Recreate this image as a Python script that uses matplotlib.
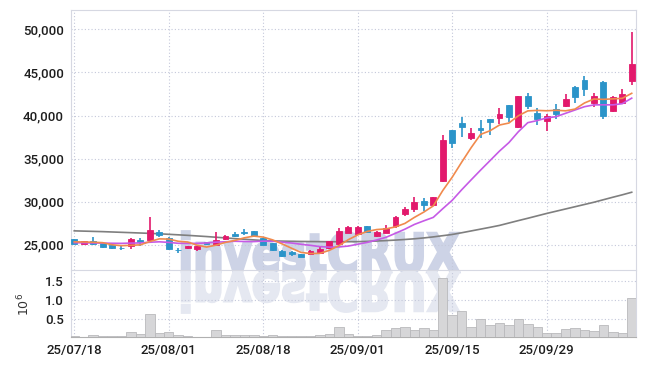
import matplotlib
matplotlib.use("Agg")
import matplotlib.pyplot as plt
from matplotlib.textpath import TextPath
from matplotlib.font_manager import FontProperties
from matplotlib.patches import PathPatch
from matplotlib.transforms import Affine2D

# ----- DATA -----
opens = [25650, 25130, 25480, 25200, 24980, 24680, 24900, 25600, 25600, 26500,
         25750, 24440, 24590, 24514, 25330, 24980, 25635, 26210, 26480, 26600,
         25750, 25170, 24320, 24130, 23930, 23930, 24090, 24600, 25050, 26400,
         26220, 27180, 26060, 26400, 27180, 28550, 29155, 30100, 29620, 32420,
         38318, 39168, 37400, 38588, 39555, 39748, 41218, 38704, 42262, 40250,
         39400, 40770, 41140, 43320, 44117, 41450, 43880, 40540, 41488, 44040]
highs = [25700, 25450, 25950, 25250, 25000, 24860, 25750, 25750, 28200, 26720,
         25940, 24590, 24920, 24900, 25350, 26520, 26100, 26520, 26800, 26640,
         25780, 25200, 24400, 24320, 23970, 24400, 24780, 25480, 26950, 27200,
         27150, 27200, 26560, 27300, 28400, 29330, 30507, 30390, 30600, 37737,
         38330, 39787, 38600, 39477, 39580, 40830, 41230, 42300, 42648, 40830,
         40200, 41295, 42470, 43370, 44582, 42570, 44001, 42262, 43034, 49724]
lows = [25100, 25100, 24990, 24600, 24520, 24420, 24470, 24860, 25450, 25866,
        24400, 24100, 24560, 24320, 24950, 24950, 25600, 25866, 26100, 26000,
        24950, 24330, 23550, 23700, 23550, 23900, 24060, 24500, 25000, 26380,
        26150, 26350, 25900, 26330, 26950, 28400, 28845, 28900, 29550, 32324,
        36191, 37500, 37200, 37400, 37737, 39013, 39284, 38600, 40714, 38880,
        38180, 39580, 41000, 41500, 42320, 40946, 39555, 40400, 41300, 43537]
closes = [25150, 25440, 25060, 24790, 24600, 24620, 25630, 25360, 26720, 26130,
          24470, 24400, 24900, 24900, 25040, 25560, 26020, 26020, 26420, 26040,
          24980, 24400, 23700, 23900, 23620, 24320, 24510, 25440, 26600, 27100,
          27100, 26520, 26530, 27000, 28265, 29115, 30004, 29620, 30585, 37157,
          36848, 38704, 38008, 38318, 39270, 40173, 39864, 42230, 41140, 39555,
          39960, 40150, 41914, 42150, 43090, 42262, 39960, 42184, 42470, 46000]

# volume in millions of shares
volumes = [0.04, 0.02, 0.07, 0.04, 0.04, 0.04, 0.15, 0.10, 0.63, 0.13,
           0.15, 0.07, 0.04, 0.02, 0.02, 0.21, 0.07, 0.06, 0.06, 0.06,
           0.04, 0.06, 0.04, 0.04, 0.04, 0.04, 0.07, 0.10, 0.29, 0.10,
           0.045, 0.045, 0.07, 0.21, 0.26, 0.29, 0.21, 0.26, 0.20, 1.57,
           0.59, 0.70, 0.29, 0.48, 0.32, 0.39, 0.32, 0.50, 0.37, 0.29,
           0.125, 0.125, 0.23, 0.26, 0.21, 0.16, 0.34, 0.15, 0.125, 1.04]

ma5 = [25350, 25330, 25300, 25250, 25008, 24902, 24940, 25000, 25386, 25692,
       25662, 25416, 25324, 24960, 24742, 24960, 25284, 25508, 25812, 26012,
       25896, 25572, 25108, 24604, 24120, 23988, 24010, 24358, 24898, 25594,
       26150, 26552, 26770, 26850, 27083, 27486, 28183, 28801, 29518, 31296,
       32843, 34583, 36260, 37807, 38230, 38895, 39127, 39971, 40535, 40592,
       40550, 40607, 40544, 40746, 41453, 41913, 41875, 41929, 41993, 42575]
ma10 = [25250, 25230, 25220, 25200, 25180, 25170, 25200, 25220, 25300, 25350,
        25282, 25178, 25162, 25173, 25217, 25311, 25350, 25416, 25386, 25377,
        25428, 25428, 25308, 25208, 25066, 24942, 24791, 24733, 24751, 24857,
        25069, 25281, 25564, 25874, 26339, 26818, 27367, 27785, 28184, 29190,
        30164, 31383, 32531, 33662, 34763, 35869, 36855, 38116, 39171, 39411,
        39722, 39867, 40257, 40641, 41023, 41232, 41241, 41237, 41370, 42014]
ma60 = [26620, 26590, 26560, 26530, 26490, 26450, 26410, 26370, 26330, 26280,
        26220, 26160, 26100, 26030, 25960, 25880, 25800, 25720, 25650, 25570,
        25500, 25460, 25430, 25410, 25390, 25380, 25370, 25360, 25360, 25360,
        25370, 25400, 25440, 25490, 25550, 25620, 25700, 25800, 25920, 26060,
        26200, 26400, 26610, 26820, 27030, 27250, 27530, 27810, 28080, 28360,
        28640, 28900, 29160, 29420, 29680, 29940, 30230, 30520, 30800, 31100]

tick_pos = [0, 10, 20, 30, 40, 50]
tick_labels = ['25/07/18', '25/08/01', '25/08/18', '25/09/01', '25/09/15', '25/09/29']
price_ticks = [25000, 30000, 35000, 40000, 45000, 50000]
vol_ticks = [0.5, 1.0, 1.5]

# ----- STYLE -----
UP = '#E2196C'
DOWN = '#2B94C9'
GRID = '#C4C8DA'
FRAME = '#D6D8E2'
plt.rcParams['font.family'] = ['Roboto', 'DejaVu Sans']

fig = plt.figure(figsize=(6.45, 3.66), dpi=100)
ax = fig.add_axes([0.110, 0.2623, 0.876, 0.7104])
axv = fig.add_axes([0.110, 0.0779, 0.876, 0.1817], sharex=ax)

for a in (ax, axv):
    a.set_facecolor('none')
    for s in a.spines.values():
        s.set_color(FRAME)
        s.set_linewidth(0.8)
    a.grid(True, linestyle=(0, (1, 2)), color=GRID, linewidth=0.8)
    a.set_axisbelow(True)
    a.tick_params(length=0, labelsize=9.5, labelcolor='#1E1E1E')
axv.spines['top'].set_visible(False)
axv.spines['bottom'].set_color('#B0B0B0')

# --- watermark (with mirrored reflection) ---
fp = FontProperties(family='DejaVu Sans', weight='bold')
tp = TextPath((0, 0), 'investCRUX', size=100, prop=fp)
bb = tp.get_extents()
cap = TextPath((0, 0), 'X', size=100, prop=fp).get_extents().y1
H = 366
base = H - 272
sx = (459 - 182) / bb.width
sy = 39 / cap
tr_main = Affine2D().translate(-bb.x0, 0).scale(sx, sy).translate(182, base)
tr_ref = Affine2D().translate(-bb.x0, 0).scale(sx, -sy).translate(182, base)
fig.add_artist(PathPatch(tp, transform=tr_main, facecolor='#CDD3E6',
                         edgecolor='#CDD3E6', linewidth=1.8, zorder=-1))
fig.add_artist(PathPatch(tp, transform=tr_ref, facecolor='#E5E8F1',
                         edgecolor='#E5E8F1', linewidth=1.8, zorder=-1))

# --- candles ---
x = list(range(len(opens)))
colors = [UP if c >= o else DOWN for o, c in zip(opens, closes)]
ax.vlines(x, lows, highs, colors=colors, linewidth=1.2, zorder=3)
bottoms = [min(o, c) for o, c in zip(opens, closes)]
heights = [abs(c - o) for o, c in zip(opens, closes)]
ax.bar(x, heights, bottom=bottoms, width=0.62, color=colors,
       edgecolor=colors, linewidth=0.6, zorder=4)

# --- moving averages ---
ax.plot(x, ma60, color='#7F7F7F', linewidth=1.2, zorder=2)
ax.plot(x, ma10, color='#C65AE6', linewidth=1.2, zorder=5)
ax.plot(x, ma5, color='#F08A4D', linewidth=1.2, zorder=5)

ax.set_xlim(-0.35, 59.45)
ax.set_ylim(22080, 52240)
ax.set_yticks(price_ticks)
ax.set_yticklabels([f'{v:,}' for v in price_ticks])
ax.tick_params(axis='x', labelbottom=False)
ax.tick_params(axis='y', pad=5)

# --- volume ---
axv.bar(x, volumes, width=1.0, color='#D6D6D8', edgecolor='#B9B9BC',
        linewidth=0.6, zorder=3)
axv.set_ylim(0, 1.76)
axv.set_yticks(vol_ticks)
axv.set_yticklabels(['0.5', '1.0', '1.5'])
axv.set_xticks(tick_pos)
axv.set_xticklabels(tick_labels)
axv.tick_params(axis='x', pad=5)
axv.tick_params(axis='y', pad=5)
axv.set_ylabel(r'$10^{6}$', fontsize=9, color='#333333')
axv.yaxis.set_label_coords(-0.068, 0.5)

for lbl in ax.get_yticklabels() + axv.get_yticklabels() + axv.get_xticklabels():
    lbl.set_fontweight('medium')

fig.savefig('out.png', dpi=100)
